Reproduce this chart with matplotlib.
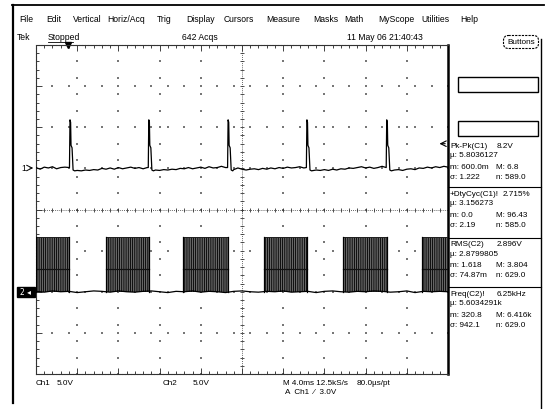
import numpy as np
import matplotlib.pyplot as plt
from matplotlib.patches import Rectangle, FancyBboxPatch

plt.rcParams['font.family'] = ['Liberation Sans', 'DejaVu Sans']

# ---------- data (time in ms, volts) ----------
ch1_noise_v = [0.10, -0.10, 0.15, 0.05, 0.20, -0.05, 0.10, 0.15, 0.05, 0.00,
               -0.25, -0.30, -0.20, -0.25, -0.15, -0.20, 0.00, -0.10, 0.05, -0.10,
               0.10, -0.05, 0.05, 0.15, 0.00, 0.10, -0.05, 0.10, 0.00, -0.20,
               -0.25, -0.15, -0.20, -0.10, -0.15, 0.00, -0.05, 0.10, -0.05, 0.05,
               0.15, 0.00, 0.20, 0.05, 0.10, 0.25, 0.10, 0.00, -0.15, 0.05,
               -0.10, -0.20, -0.10, -0.05, -0.15, 0.00, -0.10, 0.05, -0.05, 0.10,
               0.00, 0.15, 0.05, 0.10, 0.20, 0.05, 0.00, -0.05, -0.20, -0.25,
               -0.15, -0.25, -0.10, -0.20, -0.05, -0.10, 0.05, 0.00, 0.10, 0.20,
               0.05, 0.15, 0.00, 0.10, 0.25, 0.05, -0.10, -0.20, -0.15, -0.25,
               -0.10, -0.05, -0.15, 0.05, 0.00, 0.15, 0.05, 0.20, 0.10, 0.25,
               0.15]
spike_times = [3.3, 10.95, 18.65, 26.3, 34.05]
spike_dt = [-0.05, 0.0, 0.06, 0.1, 0.2, 0.3, 0.45]
spike_v = [0.1, 5.9, 5.6, 2.8, 2.5, -0.2, -0.3]

burst_start = [0.0, 6.75, 14.3, 22.1, 29.8, 37.5]
burst_end = [3.25, 10.95, 18.65, 26.3, 34.05, 40.0]
burst_high = 6.7
burst_mid = 2.8
ch2_noise_v = [0.05, -0.05, 0.10, 0.00, 0.05, -0.10, 0.00, 0.10, 0.05, -0.05,
               0.10, 0.00, -0.05, 0.05, 0.10, 0.00, -0.10, 0.05, 0.00, 0.10,
               -0.05, 0.05, 0.00, -0.10, 0.05, 0.10, 0.00, -0.05, 0.05, 0.00,
               0.10, -0.05, 0.00, 0.05, -0.10, 0.05, 0.10, 0.00, -0.05, 0.05,
               0.00, 0.10, 0.05, -0.05, 0.00, 0.10, -0.10, 0.05, 0.00, 0.05, 0.00]

trigger_t = 3.1
trigger_level = 3.0

menu = ["File", "Edit", "Vertical", "Horiz/Acq", "Trig", "Display", "Cursors",
        "Measure", "Masks", "Math", "MyScope", "Utilities", "Help"]
menu_x = [19, 46, 73, 107, 157, 186, 224, 266, 313, 344, 378, 421, 460]

meas = [
    ("Pk-Pk(C1)", "8.2V", "µ: 5.8036127", "m: 600.0m", "M: 6.8", "σ: 1.222", "n: 589.0"),
    ("+DtyCyc(C1)!", "2.715%", "µ: 3.156273", "m: 0.0", "M: 96.43", "σ: 2.19", "n: 585.0"),
    ("RMS(C2)", "2.896V", "µ: 2.8799805", "m: 1.618", "M: 3.804", "σ: 74.87m", "n: 629.0"),
    ("Freq(C2)!", "6.25kHz", "µ: 5.6034291k", "m: 320.8", "M: 6.416k", "σ: 942.1", "n: 629.0"),
]
meas_y = [147, 195, 245, 295]
meas_value_x = [497, 503, 497, 497]

# ---------- figure ----------
W, H = 546, 410
fig = plt.figure(figsize=(W / 100, H / 100), dpi=100)
bg = fig.add_axes([0, 0, 1, 1])
bg.set_xlim(0, W)
bg.set_ylim(H, 0)
bg.axis('off')

fs = 6.2
fm = 5.9
# scan frame
bg.plot([12, 544], [6, 6], color='k', lw=1.3)
bg.plot([13, 13], [6, 404], color='k', lw=1.6)
bg.plot([541, 541], [40, 410], color='k', lw=1.0)

for name, x in zip(menu, menu_x):
    bg.text(x, 20, name, fontsize=fs, va='center', ha='left')
bg.text(17, 38, "Tek", fontsize=fs, va='center')
bg.text(48, 38, "Stopped", fontsize=fs, va='center')
bg.plot([48, 73], [43, 43], color='k', lw=0.6)
bg.text(182, 37, "642 Acqs", fontsize=fs, va='center')
bg.text(347, 37, "11 May 06 21:40:43", fontsize=fs, va='center')

bg.add_patch(FancyBboxPatch((505, 38), 32, 10, boxstyle="round,pad=1.5,rounding_size=5",
                            fill=False, ec='k', lw=0.8, ls=(0, (2, 1))))
bg.text(521, 43, "Buttons", fontsize=fm, va='center', ha='center')
bg.add_patch(Rectangle((458, 78), 80, 15, fill=False, ec='k', lw=1.0))
bg.add_patch(Rectangle((458, 122), 80, 15, fill=False, ec='k', lw=1.0))

for (t1, v1, mu, m, M, s, n), y, vx in zip(meas, meas_y, meas_value_x):
    bg.text(450, y, t1, fontsize=fm, va='center')
    bg.text(vx, y, v1, fontsize=fm, va='center')
    bg.text(450, y + 9, mu, fontsize=fm, va='center')
    bg.text(450, y + 21, m, fontsize=fm, va='center')
    bg.text(496, y + 21, M, fontsize=fm, va='center')
    bg.text(450, y + 31, s, fontsize=fm, va='center')
    bg.text(496, y + 31, n, fontsize=fm, va='center')
for y in [188, 239, 288]:
    bg.plot([448, 541], [y, y], color='k', lw=0.8)

bg.text(36, 384, "Ch1", fontsize=fm, va='center')
bg.text(57, 384, "5.0V", fontsize=fm, va='center')
bg.text(163, 384, "Ch2", fontsize=fm, va='center')
bg.text(193, 384, "5.0V", fontsize=fm, va='center')
bg.text(283, 384, "M 4.0ms 12.5kS/s", fontsize=fm, va='center')
bg.text(357, 384, "80.0µs/pt", fontsize=fm, va='center')
bg.text(285, 393, "A  Ch1  ⁄  3.0V", fontsize=fm, va='center')

# ---------- graticule ----------
gx0, gx1, gy0, gy1 = 36, 448, 46, 375
ax = fig.add_axes([gx0 / W, 1 - gy1 / H, (gx1 - gx0) / W, (gy1 - gy0) / H])
ax.set_facecolor('none')
ax.set_xlim(0, 40)
ax.set_ylim(-4, 4)
ax.set_xticks(np.arange(0, 41, 4))
ax.set_xticks(np.arange(0, 40.01, 0.8), minor=True)
ax.set_yticks(np.arange(-4, 5, 1))
ax.set_yticks(np.arange(-4, 4.01, 0.2), minor=True)
ax.tick_params(which='both', direction='in', top=True, right=True,
               labelleft=False, labelbottom=False, color='#222', width=0.6)
ax.tick_params(which='major', length=4)
ax.tick_params(which='minor', length=2.5)
for side, sp in ax.spines.items():
    sp.set_linewidth(0.8)
    sp.set_color('#333')
    sp.set_linestyle((0, (2, 0.6)))
ax.spines['right'].set_linewidth(1.8)
ax.spines['right'].set_color('k')
ax.spines['right'].set_linestyle('-')

ys = np.arange(-4, 4.01, 0.4)
xs = np.arange(0, 40.01, 0.8)
xs_sparse = np.arange(0, 40.01, 1.6)
for xd in [4, 8, 12, 16, 24, 28, 32, 36]:
    ax.scatter(np.full_like(ys, xd), ys, s=0.8, c='#777', marker='s', lw=0)
for yd in [-3, -2, -1, 1, 2, 3]:
    ax.scatter(xs_sparse, np.full_like(xs_sparse, yd), s=0.8, c='#777', marker='s', lw=0)
ys_c = np.arange(-4, 4.01, 0.2)
ax.plot(xs, np.zeros_like(xs), ls=(0, (1, 1.5)), lw=0.6, color='#333',
        marker='|', ms=3.5, mew=0.6)
ax.plot(np.full_like(ys_c, 20), ys_c, ls=(0, (1, 1.5)), lw=0.6, color='#333',
        marker='_', ms=3.5, mew=0.6)
ax.plot([trigger_t], [4], marker='v', ms=4, color='k', clip_on=False)

# channel 1 (5 V/div, +1 div offset)
ax1 = ax.twinx()
ax1.set_ylim(-25, 15)
ax1.axis('off')
noise_t = np.linspace(0, 40, len(ch1_noise_v))
keep = np.ones(len(noise_t), bool)
for t0 in spike_times:
    keep &= ~((noise_t >= t0 - 0.1) & (noise_t <= t0 + 0.5))
t_all = list(noise_t[keep])
v_all = list(np.array(ch1_noise_v)[keep])
for t0 in spike_times:
    t_all += [t0 + d for d in spike_dt]
    v_all += spike_v
order = np.argsort(t_all)
ax1.plot(np.array(t_all)[order], np.array(v_all)[order], color='k', lw=0.9)
ax1.annotate("", xy=(38.9, trigger_level), xytext=(40, trigger_level),
             arrowprops=dict(arrowstyle="->", lw=0.8, color='k'))

# channel 2 (5 V/div, -2 div offset)
ax2 = ax.twinx()
ax2.set_ylim(-10, 30)
ax2.axis('off')
plt.rcParams['hatch.linewidth'] = 0.9
widths = [e - s for s, e in zip(burst_start, burst_end)]
ax2.broken_barh(list(zip(burst_start, widths)), (0, burst_high),
                facecolor='#a0a0a0', edgecolor='#111', hatch='|||||||||', lw=0)
for s, e in zip(burst_start, burst_end):
    ax2.plot([s, e], [burst_high, burst_high], color='#222', lw=0.7)
    ax2.plot([s, e], [burst_mid, burst_mid], color='#111', lw=0.9)
    ax2.plot([s, s], [0, burst_high], color='k', lw=0.9)
    ax2.plot([e, e], [0, burst_high], color='k', lw=0.9)
t2 = np.linspace(0, 40, len(ch2_noise_v))
ax2.plot(t2, ch2_noise_v, color='k', lw=0.9)

# channel markers
bg.text(24, 169, "1", fontsize=fs, va='center', ha='center')
bg.annotate("", xy=(36, 169), xytext=(27, 169),
            arrowprops=dict(arrowstyle="->", lw=0.7, color='k'))
bg.add_patch(Rectangle((17, 288), 18, 10, color='k'))
bg.text(26, 293, "2 ◂", fontsize=5.5, va='center', ha='center', color='w',
        family=['DejaVu Sans'])

fig.savefig("out.png", dpi=100)
